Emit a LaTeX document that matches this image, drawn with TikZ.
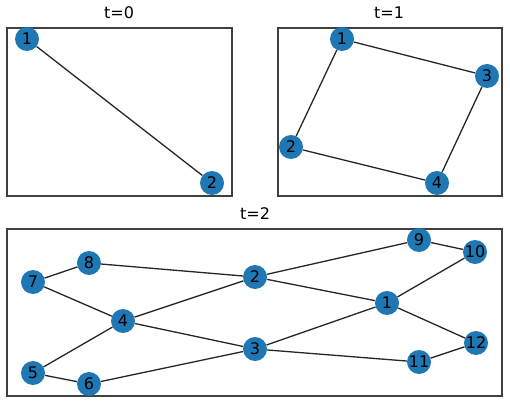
\documentclass[tikz,border=0pt]{standalone}
\usepackage{fontspec}
\setmainfont{DejaVu Sans}
\definecolor{tabblue}{HTML}{1F77B4}
\tikzset{
  vtx/.style={circle, fill=tabblue, inner sep=0pt, minimum size=24pt, font=\fontsize{16}{16}\selectfont, text=black},
  edge/.style={draw=black!85, line width=1.3pt},
  panel/.style={draw=black!75, line width=1.1pt},
  ttl/.style={font=\fontsize{16}{16}\selectfont, text=black}
}
\begin{document}
\begin{tikzpicture}[x=1pt,y=-1pt]
\useasboundingbox (0,0) rectangle (510,403);
% panels
\draw[panel] (7,28) rectangle (232,196);
\draw[panel] (278,28) rectangle (502,196);
\draw[panel] (7,229) rectangle (502,396);
\node[ttl] (t0) at (119,13) {t=0};
\node[ttl] (t1) at (389,13) {t=1};
\node[ttl] (t2) at (255,214) {t=2};
% t=0
\node[vtx] (a1) at (27,39) {1};
\node[vtx] (a2) at (212,183) {2};
\draw[edge] (a1) -- (a2);
% t=1
\node[vtx] (b1) at (342,39) {1};
\node[vtx] (b3) at (487,76) {3};
\node[vtx] (b2) at (291,147) {2};
\node[vtx] (b4) at (437,183) {4};
\draw[edge] (b1) -- (b3);
\draw[edge] (b1) -- (b2);
\draw[edge] (b2) -- (b4);
\draw[edge] (b3) -- (b4);
% t=2
\node[vtx] (c7) at (33,282) {7};
\node[vtx] (c8) at (89,263) {8};
\node[vtx] (c4) at (123,321) {4};
\node[vtx] (c5) at (33,373) {5};
\node[vtx] (c6) at (89,384) {6};
\node[vtx] (c2) at (255,277) {2};
\node[vtx] (c3) at (255,349) {3};
\node[vtx] (c9) at (419,240) {9};
\node[vtx] (c10) at (475,252) {10};
\node[vtx] (c1) at (387,303) {1};
\node[vtx] (c12) at (476,343) {12};
\node[vtx] (c11) at (419,362) {11};
\draw[edge] (c7) -- (c8);
\draw[edge] (c8) -- (c2);
\draw[edge] (c7) -- (c4);
\draw[edge] (c4) -- (c2);
\draw[edge] (c4) -- (c3);
\draw[edge] (c4) -- (c5);
\draw[edge] (c5) -- (c6);
\draw[edge] (c6) -- (c3);
\draw[edge] (c2) -- (c9);
\draw[edge] (c9) -- (c10);
\draw[edge] (c10) -- (c1);
\draw[edge] (c2) -- (c1);
\draw[edge] (c3) -- (c1);
\draw[edge] (c3) -- (c11);
\draw[edge] (c11) -- (c12);
\draw[edge] (c12) -- (c1);
\end{tikzpicture}
\end{document}
